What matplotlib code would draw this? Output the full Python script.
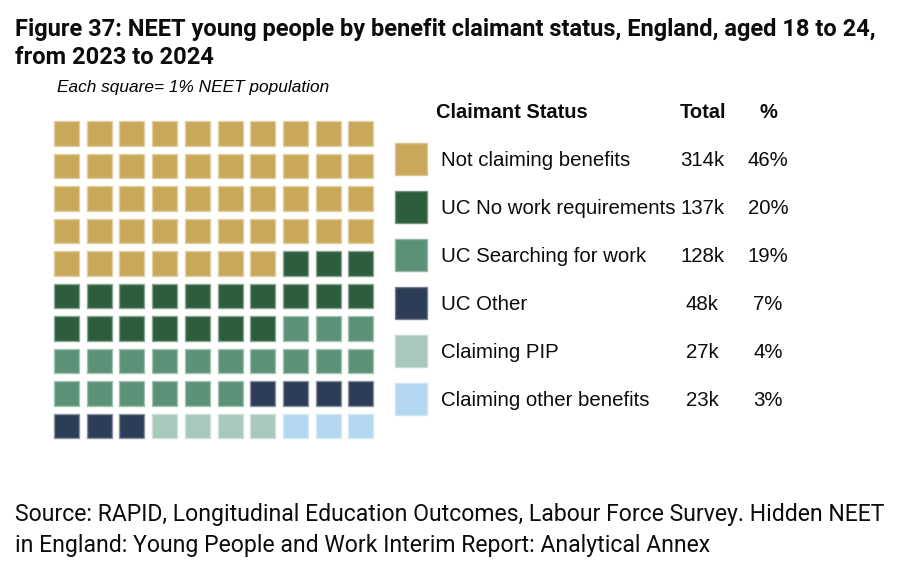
import matplotlib.pyplot as plt
from matplotlib.patches import Rectangle
from matplotlib.colors import to_rgb

# data
categories = ['Not claiming benefits', 'UC No work requirements', 'UC Searching for work',
              'UC Other', 'Claiming PIP', 'Claiming other benefits']
totals = ['314k', '137k', '128k', '48k', '27k', '23k']
percents = ['46%', '20%', '19%', '7%', '4%', '3%']
squares = [47, 20, 19, 7, 4, 3]   # squares drawn per category in the waffle
colours = ['#C9A959', '#2C5E3E', '#5B9177', '#2D3C57', '#A8C8BB', '#B3D7F0']

W, H = 917, 562
fig = plt.figure(figsize=(W / 100, H / 100), dpi=100)


def lighten(c, f=0.45):
    r, g, b = to_rgb(c)
    return (r + (1 - r) * f, g + (1 - g) * f, b + (1 - b) * f)


def px_axes(x0, y0, x1, y1):
    # axes from pixel box (top-left origin)
    return fig.add_axes([x0 / W, 1 - y1 / H, (x1 - x0) / W, (y1 - y0) / H])


# titles
fig.text(15 / W, 1 - 27 / H, 'Figure 37: NEET young people by benefit claimant status, England, aged 18 to 24,',
         fontsize=17, fontweight='bold', family='Roboto', va='center_baseline', ha='left', color='#0b0c0c')
fig.text(15 / W, 1 - 55 / H, 'from 2023 to 2024',
         fontsize=17, fontweight='bold', family='Roboto', va='center_baseline', ha='left', color='#0b0c0c')
fig.text(57 / W, 1 - 86 / H, 'Each square= 1% NEET population', fontsize=12.4, style='italic',
         family='Liberation Sans', va='center_baseline', ha='left')

# waffle
ax = px_axes(50.2, 117.2, 377.2, 442.2)
ax.set_xlim(0, 10)
ax.set_ylim(10, 0)
ax.axis('off')
size = 25 / 32.7
pad = (1 - size) / 2
k = 0
for cat_i, n in enumerate(squares):
    for _ in range(n):
        row, col = divmod(k, 10)
        ax.add_patch(Rectangle((col + pad, row + pad), size, size, facecolor=colours[cat_i],
                               edgecolor=lighten(colours[cat_i]), linewidth=1))
        k += 1

# legend table
lg = px_axes(390, 135, 917, 423)
lg.set_xlim(390, 917)
lg.set_ylim(len(categories), 0)
lg.axis('off')
font = dict(family='Liberation Sans', fontsize=14.7, va='center_baseline', color='#0b0c0c')
sw = 32 / 48
for i, cat in enumerate(categories):
    lg.add_patch(Rectangle((395.5, i + 0.5 - sw / 2), 32, sw, facecolor=colours[i],
                           edgecolor=lighten(colours[i], 0.35), linewidth=1))
    lg.text(441, i + 0.5, cat, ha='left', **font)
    lg.text(702, i + 0.5, totals[i], ha='center', **font)
    lg.text(768, i + 0.5, percents[i], ha='center', **font)

hdr = dict(family='Liberation Sans', fontsize=14.5, fontweight='bold', va='center_baseline', color='#0b0c0c')
fig.text(436 / W, 1 - 111 / H, 'Claimant Status', ha='left', **hdr)
fig.text(703 / W, 1 - 111 / H, 'Total', ha='center', **hdr)
fig.text(768 / W, 1 - 111 / H, '%', ha='center', **hdr)

# source
src = dict(fontsize=16.6, family='Roboto', va='center_baseline', ha='left', color='#0b0c0c')
fig.text(15 / W, 1 - 512 / H, 'Source: RAPID, Longitudinal Education Outcomes, Labour Force Survey. Hidden NEET', **src)
fig.text(15 / W, 1 - 543 / H, 'in England: Young People and Work Interim Report: Analytical Annex', **src)

fig.savefig('out.png', dpi=100, facecolor='white')
